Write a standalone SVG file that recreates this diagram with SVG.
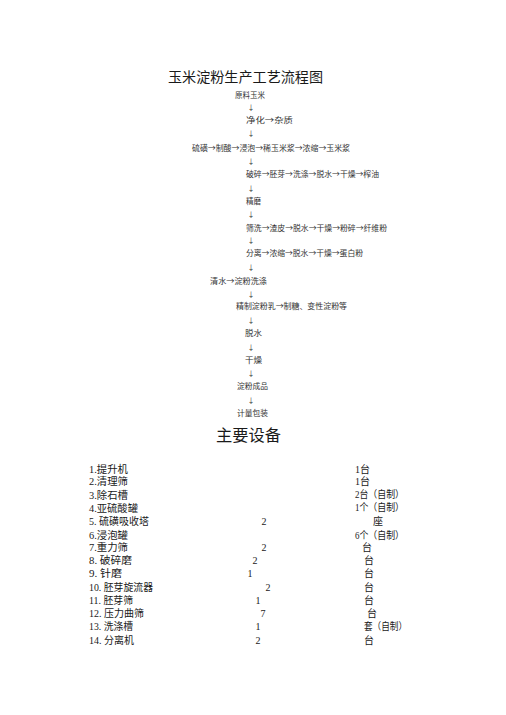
<svg xmlns="http://www.w3.org/2000/svg" width="506" height="715" viewBox="0 0 506 715">
<style>
text{font-family:"Liberation Serif","Noto Sans CJK SC",serif;fill:#222}
.title{font-size:14px;fill:#1a1a1a}
.h2{font-size:16px;fill:#1a1a1a}
.f{font-family:"Noto Sans CJK SC","Liberation Serif",serif;font-size:7.5px;fill:#333}
.arr{font-family:"Noto Sans CJK SC","Liberation Serif",serif;font-size:7px;fill:#333;text-anchor:middle}
.l{font-size:10px;fill:#1a1a1a}
.n{font-size:10px;fill:#1a1a1a;text-anchor:middle}
</style>
<rect width="506" height="715" fill="#fff"/>
<text class="title" x="168" y="82" textLength="155" lengthAdjust="spacingAndGlyphs">玉米淀粉生产工艺流程图</text>
<g id="nodes">
<g id="n1"><text class="f" x="235" y="98" textLength="30" lengthAdjust="spacingAndGlyphs">原料玉米</text></g>
<g id="n2"><text class="f" x="246" y="123" textLength="47" lengthAdjust="spacingAndGlyphs">净化→杂质</text></g>
<g id="n3"><text class="f" x="192" y="151" textLength="158" lengthAdjust="spacingAndGlyphs">硫磺→制酸→浸泡→稀玉米浆→浓缩→玉米浆</text></g>
<g id="n4"><text class="f" x="246" y="177" textLength="133" lengthAdjust="spacingAndGlyphs">破碎→胚芽→洗涤→脱水→干燥→榨油</text></g>
<g id="n5"><text class="f" x="246" y="204" textLength="15" lengthAdjust="spacingAndGlyphs">精磨</text></g>
<g id="n6"><text class="f" x="246" y="231" textLength="141" lengthAdjust="spacingAndGlyphs">筛洗→渣皮→脱水→干燥→粉碎→纤维粉</text></g>
<g id="n7"><text class="f" x="246" y="256" textLength="117" lengthAdjust="spacingAndGlyphs">分离→浓缩→脱水→干燥→蛋白粉</text></g>
<g id="n8"><text class="f" x="210" y="284" textLength="57" lengthAdjust="spacingAndGlyphs">清水→淀粉洗涤</text></g>
<g id="n9"><text class="f" x="236" y="309" textLength="111" lengthAdjust="spacingAndGlyphs">精制淀粉乳→制糖、变性淀粉等</text></g>
<g id="n10"><text class="f" x="245" y="336" textLength="17" lengthAdjust="spacingAndGlyphs">脱水</text></g>
<g id="n11"><text class="f" x="245" y="363" textLength="17" lengthAdjust="spacingAndGlyphs">干燥</text></g>
<g id="n12"><text class="f" x="237" y="389" textLength="31" lengthAdjust="spacingAndGlyphs">淀粉成品</text></g>
<g id="n13"><text class="f" x="237" y="416" textLength="31" lengthAdjust="spacingAndGlyphs">计量包装</text></g>
</g>
<g id="connectors">
<text class="arr" x="251" y="110">↓</text>
<text class="arr" x="251" y="136">↓</text>
<text class="arr" x="251" y="164">↓</text>
<text class="arr" x="251" y="191">↓</text>
<text class="arr" x="251" y="217">↓</text>
<text class="arr" x="251" y="243">↓</text>
<text class="arr" x="251" y="270">↓</text>
<text class="arr" x="251" y="297">↓</text>
<text class="arr" x="251" y="323">↓</text>
<text class="arr" x="251" y="350">↓</text>
<text class="arr" x="251" y="376">↓</text>
<text class="arr" x="251" y="403">↓</text>
</g>
<text class="h2" x="216" y="441" textLength="65" lengthAdjust="spacingAndGlyphs">主要设备</text>
<g id="equipment">
<text class="l" x="89" y="473" textLength="39" lengthAdjust="spacingAndGlyphs">1.提升机</text>
<text class="l" x="89" y="485" textLength="39" lengthAdjust="spacingAndGlyphs">2.清理筛</text>
<text class="l" x="89" y="499" textLength="39" lengthAdjust="spacingAndGlyphs">3.除石槽</text>
<text class="l" x="89" y="512" textLength="49" lengthAdjust="spacingAndGlyphs">4.亚硫酸罐</text>
<text class="l" x="89" y="525" textLength="60" lengthAdjust="spacingAndGlyphs">5. 硫磺吸收塔</text>
<text class="l" x="89" y="539" textLength="39" lengthAdjust="spacingAndGlyphs">6.浸泡罐</text>
<text class="l" x="89" y="551" textLength="39" lengthAdjust="spacingAndGlyphs">7.重力筛</text>
<text class="l" x="89" y="564" textLength="43" lengthAdjust="spacingAndGlyphs">8. 破碎磨</text>
<text class="l" x="89" y="577" textLength="33" lengthAdjust="spacingAndGlyphs">9. 针磨</text>
<text class="l" x="89" y="591" textLength="64" lengthAdjust="spacingAndGlyphs">10. 胚芽旋流器</text>
<text class="l" x="89" y="604" textLength="44" lengthAdjust="spacingAndGlyphs">11. 胚芽筛</text>
<text class="l" x="89" y="617" textLength="55" lengthAdjust="spacingAndGlyphs">12. 压力曲筛</text>
<text class="l" x="89" y="630" textLength="44" lengthAdjust="spacingAndGlyphs">13. 洗涤槽</text>
<text class="l" x="89" y="644" textLength="45" lengthAdjust="spacingAndGlyphs">14. 分离机</text>
<text class="n" x="264" y="525">2</text>
<text class="n" x="264" y="551">2</text>
<text class="n" x="255" y="564">2</text>
<text class="n" x="250" y="577">1</text>
<text class="n" x="268" y="591">2</text>
<text class="n" x="258" y="604">1</text>
<text class="n" x="263" y="617">7</text>
<text class="n" x="258" y="630">1</text>
<text class="n" x="258" y="644">2</text>
<text class="l" x="355" y="473">1台</text>
<text class="l" x="355" y="485">1台</text>
<text class="l" x="355" y="498" textLength="49" lengthAdjust="spacingAndGlyphs">2台（自制）</text>
<text class="l" x="355" y="511" textLength="49" lengthAdjust="spacingAndGlyphs">1个（自制）</text>
<text class="l" x="373" y="525">座</text>
<text class="l" x="355" y="539" textLength="49" lengthAdjust="spacingAndGlyphs">6个（自制）</text>
<text class="l" x="362" y="551">台</text>
<text class="l" x="364" y="564">台</text>
<text class="l" x="364" y="577">台</text>
<text class="l" x="364" y="591">台</text>
<text class="l" x="364" y="604">台</text>
<text class="l" x="367" y="617">台</text>
<text class="l" x="364" y="630" textLength="43" lengthAdjust="spacingAndGlyphs">套（自制）</text>
<text class="l" x="364" y="644">台</text>
</g>
</svg>
